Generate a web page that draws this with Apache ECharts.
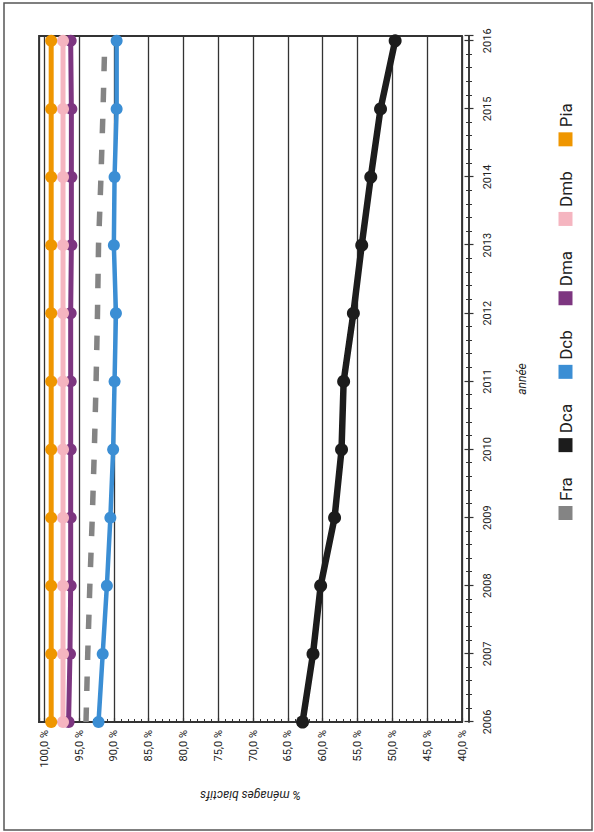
<!DOCTYPE html>
<html><head><meta charset="utf-8">
<script src="https://cdn.jsdelivr.net/npm/echarts@6/dist/echarts.min.js"></script>
<style>
html,body{margin:0;padding:0;width:594px;height:832px;overflow:hidden;background:#fff;}
#chart{position:absolute;left:0;top:0;width:832px;height:594px;transform-origin:0 0;transform:translate(0,832px) rotate(-90deg);}
</style></head><body><div id="chart"></div>
<script>
const years = [2006, 2007, 2008, 2009, 2010, 2011, 2012, 2013, 2014, 2015, 2016];
const fra = [94.0, 93.75, 93.45, 93.1, 92.8, 92.55, 92.35, 92.2, 91.85, 91.55, 91.3];
const dca = [62.9, 61.4, 60.3, 58.3, 57.3, 57.0, 55.6, 54.4, 53.1, 51.7, 49.6];
const dcb = [92.2, 91.6, 91.0, 90.5, 90.1, 89.9, 89.7, 90.0, 89.9, 89.6, 89.6];
const dma = [96.5, 96.3, 96.2, 96.2, 96.2, 96.2, 96.2, 96.1, 96.1, 96.1, 96.2];
const dmb = [97.3, 97.3, 97.3, 97.3, 97.3, 97.3, 97.3, 97.3, 97.3, 97.3, 97.3];
const pia = [99.0, 99.0, 99.0, 99.0, 99.0, 99.0, 99.0, 99.0, 99.0, 99.0, 99.0];
const seriesNames = ['Fra', 'Dca', 'Dcb', 'Dma', 'Dmb', 'Pia'];

const pair = arr => years.map((y, i) => [y, arr[i]]);
const chart = echarts.init(document.getElementById('chart'), null, {renderer: 'svg'});
const axisColor = '#333';
const mk = (name, arr, color, width, sym) => ({
  name, type: 'line', data: pair(arr), xAxisIndex: 0,
  symbol: sym ? 'circle' : 'none', symbolSize: sym || 0,
  lineStyle: {color, width}, itemStyle: {color}, emphasis: {disabled: true}, z: 3
});
const xCommon = {
  type: 'value', min: 2006, max: 2016.07, interval: 1, position: 'bottom', offset: 7,
  axisLine: {show: true, onZero: false, lineStyle: {color: axisColor, width: 1.5}},
  splitLine: {show: false}
};
chart.setOption({
  animation: false,
  textStyle: {fontFamily: 'Roboto, sans-serif'},
  grid: {left: 110, right: 36, top: 39, bottom: 132, show: true, borderColor: axisColor, borderWidth: 1.8, backgroundColor: 'transparent'},
  graphic: [{type: 'rect', shape: {x: 2, y: 4, width: 827, height: 588}, style: {fill: 'none', stroke: '#555', lineWidth: 1.5}, silent: true}],
  legend: {
    data: seriesNames, left: 307, top: 552, itemWidth: 14, itemHeight: 14, itemGap: 25, icon: 'rect',
    itemStyle: {borderWidth: 0},
    textStyle: {fontFamily: 'Roboto, sans-serif', fontSize: 17, color: '#222'}
  },
  xAxis: [
    Object.assign({}, xCommon, {
      name: 'année', nameLocation: 'middle', nameGap: 47,
      nameTextStyle: {fontStyle: 'italic', fontSize: 12, color: '#222'},
      axisTick: {show: true, inside: false, length: 4.5, lineStyle: {color: axisColor, width: 1.2}},
      minorTick: {show: true, splitNumber: 5, length: 3, lineStyle: {color: axisColor, width: 1}},
      axisLabel: {margin: 13, fontSize: 11, color: '#222', formatter: v => Number.isInteger(v) ? String(v) : ''}
    }),
    Object.assign({}, xCommon, {
      axisTick: {show: true, inside: true, length: 4.5, lineStyle: {color: axisColor, width: 1.2}},
      minorTick: {show: true, splitNumber: 5, length: 3, lineStyle: {color: axisColor, width: 1}},
      axisLabel: {show: false}
    })
  ],
  yAxis: {
    type: 'value', min: 40, max: 100.75, interval: 5, position: 'left',
    name: '% ménages biactifs', nameLocation: 'middle', nameGap: 67,
    nameTextStyle: {fontStyle: 'italic', fontSize: 12, color: '#222'},
    axisLine: {show: true, onZero: false, lineStyle: {color: axisColor, width: 1.8}},
    axisTick: {show: true, inside: true, length: 4, lineStyle: {color: axisColor, width: 1.2}},
    minorTick: {show: true, splitNumber: 5, length: 3, lineStyle: {color: axisColor, width: 1}},
    splitLine: {show: true, lineStyle: {color: axisColor, width: 1.3}},
    axisLabel: {margin: 8, fontSize: 11, color: '#222',
      formatter: v => (Math.abs(v % 5) < 1e-9) ? v.toFixed(1).replace('.', ',') + ' %' : ''}
  },
  series: [
    Object.assign(mk('Fra', fra, '#848484', 5.5, 0), {lineStyle: {color: '#848484', width: 5.5, type: [14.5, 16.5], cap: 'butt'}}),
    mk('Dca', dca, '#1c1c1c', 6.5, 13),
    mk('Dcb', dcb, '#3b8ed4', 4.5, 12),
    mk('Dma', dma, '#7d3680', 5, 12),
    mk('Dmb', dmb, '#f5b5c0', 5, 12),
    mk('Pia', pia, '#ef9600', 5, 12)
  ]
});
</script></body></html>
